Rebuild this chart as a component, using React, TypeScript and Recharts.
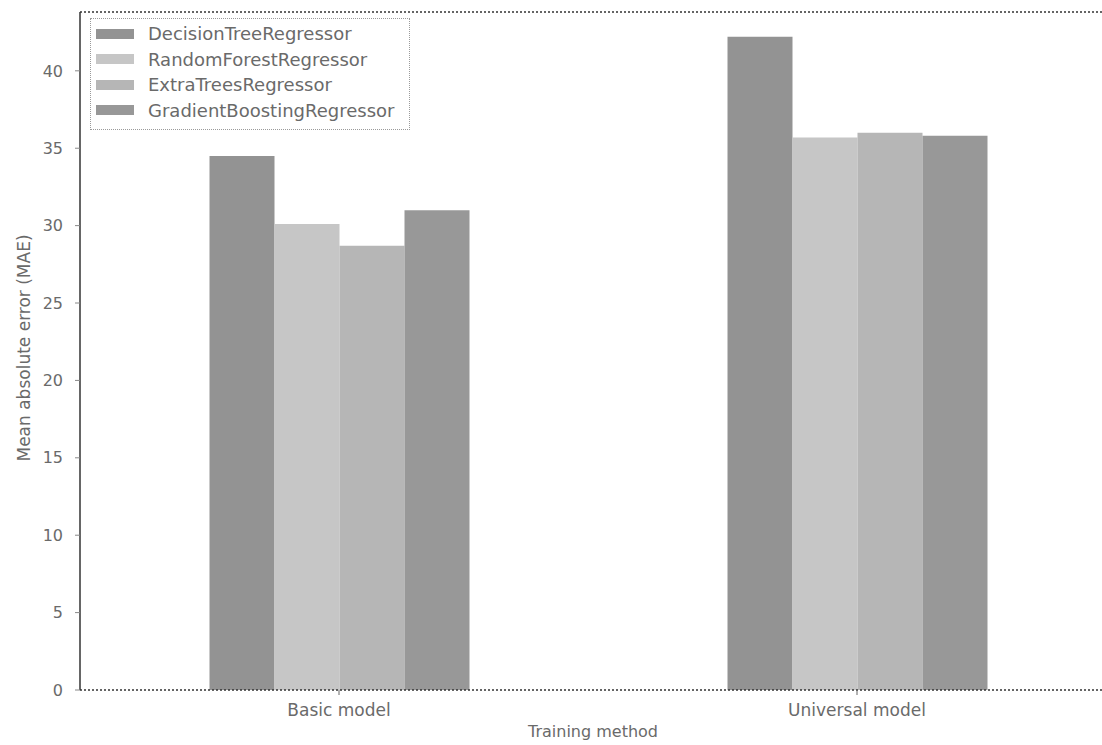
import React from "react";
import { BarChart, Bar, XAxis, YAxis, Label, Legend, ReferenceLine } from "recharts";

const categories = ["Basic model", "Universal model"];
const decisionTree = [34.5, 42.2];
const randomForest = [30.1, 35.7];
const extraTrees = [28.7, 36.0];
const gradientBoosting = [31.0, 35.8];
const seriesNames = [
  "DecisionTreeRegressor",
  "RandomForestRegressor",
  "ExtraTreesRegressor",
  "GradientBoostingRegressor",
];
const seriesKeys = ["dt", "rf", "et", "gb"];
const seriesColors = ["#939393", "#c6c6c6", "#b6b6b6", "#989898"];
const yTicks = [0, 5, 10, 15, 20, 25, 30, 35, 40];
const yMax = 43.8;

const data = categories.map((name, i) => ({
  name,
  dt: decisionTree[i],
  rf: randomForest[i],
  et: extraTrees[i],
  gb: gradientBoosting[i],
}));

const FONT = "'DejaVu Sans', sans-serif";
const TEXT = "#6a6a6a";

const LegendBox = () => {
  return (
    <div
      style={{
        border: "1.5px dotted #9a9a9a",
        background: "#fff",
        padding: "2px 0 6px 0",
        fontFamily: FONT,
        boxSizing: "border-box",
        width: 320,
      }}
    >
      {seriesNames.map((name, i) => (
        <div key={name} style={{ display: "flex", alignItems: "center", height: 25.5 }}>
          <div style={{ width: 38, height: 10, background: seriesColors[i], marginLeft: 5 }} />
          <span style={{ marginLeft: 14, fontSize: 18, color: TEXT, lineHeight: "25px", whiteSpace: "nowrap" }}>
            {name}
          </span>
        </div>
      ))}
    </div>
  );
};

export default function App() {
  return (
    <div
      style={{
        position: "absolute",
        left: 0,
        top: 0,
        width: 1102,
        height: 745,
        overflow: "hidden",
        background: "#fff",
      }}
    >
      <BarChart
        width={1102}
        height={745}
        data={data}
        margin={{ top: 12, right: 0, bottom: 0, left: 0 }}
        barCategoryGap="25%"
        barGap={0}
      >
        <XAxis
          dataKey="name"
          height={55}
          interval={0}
          padding={{ left: 0, right: -14 }}
          tickSize={5}
          tickMargin={9}
          tickLine={{ stroke: "#666" }}
          axisLine={{ stroke: "#333", strokeWidth: 1.5, strokeDasharray: "2 2" }}
          tick={{ fontSize: 17, fill: TEXT, fontFamily: FONT }}
        >
          <Label
            content={() => (
              <text x={593} y={731} textAnchor="middle" dominantBaseline="central" fontSize={16} fill={TEXT} fontFamily={FONT}>
                Training method
              </text>
            )}
          />
        </XAxis>
        <YAxis
          width={80}
          domain={[0, yMax]}
          ticks={yTicks}
          allowDataOverflow
          tickSize={5}
          tickMargin={12}
          tickLine={{ stroke: "#888" }}
          axisLine={{ stroke: "#333", strokeWidth: 1.5 }}
          tick={{ fontSize: 16, fill: TEXT, fontFamily: FONT }}
        >
          <Label
            content={() => (
              <text
                x={24}
                y={348}
                transform="rotate(-90, 24, 348)"
                textAnchor="middle"
                dominantBaseline="central"
                fontSize={17}
                fill={TEXT}
                fontFamily={FONT}
              >
                Mean absolute error (MAE)
              </text>
            )}
          />
        </YAxis>
        <ReferenceLine y={yMax} stroke="#333" strokeWidth={1.5} strokeDasharray="2 2" />
        <Legend
          layout="horizontal"
          verticalAlign="middle"
          align="center"
          wrapperStyle={{ left: 90, top: 18, width: 320 }}
          content={LegendBox}
        />
        {seriesKeys.map((k, i) => (
          <Bar key={k} dataKey={k} name={seriesNames[i]} fill={seriesColors[i]} isAnimationActive={false} />
        ))}
      </BarChart>
    </div>
  );
}
